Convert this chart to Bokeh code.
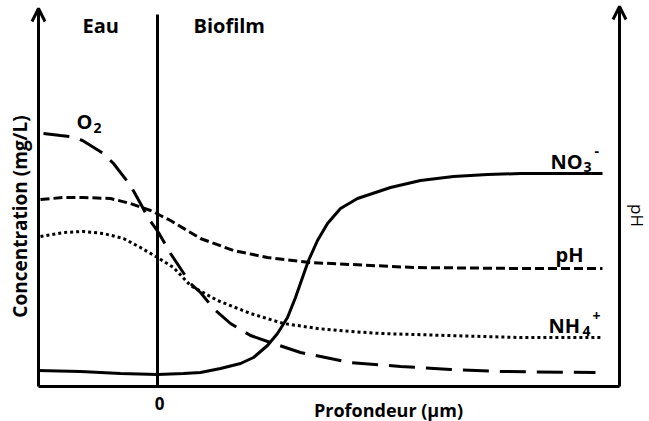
from bokeh.plotting import figure
from bokeh.models import Range1d, Arrow, OpenHead, Label
from bokeh.embed import file_html
from bokeh.resources import INLINE
import math

# Depth (arbitrary units, 0 = water/biofilm interface) and concentration (arbitrary units)
o2_depth = [-114, -97, -87, -75, -54, -44, -27, -17, -9, 1, 13, 33, 43, 56, 73, 93, 113, 143, 193, 243, 293, 343, 438]
o2_conc = [253, 251, 250, 246, 233, 223, 201, 183, 168, 154, 133, 103, 94, 78, 63, 51, 44, 34, 24, 20, 17, 15, 14]

ph_depth = [-117, -94, -74, -47, -27, -7, 3, 13, 43, 76, 110, 153, 193, 256, 363, 445]
ph_val = [187, 189, 189, 188, 183, 176, 171, 166, 148, 136, 129, 124, 122, 119, 118, 118]

nh4_depth = [-117, -94, -74, -54, -34, -17, 0, 16, 33, 60, 93, 126, 160, 193, 223, 290, 363, 445]
nh4_conc = [150, 154, 155, 153, 148, 139, 129, 119, 101, 86, 73, 63, 58, 55, 53, 51, 49, 49]

no3_depth = [-120, -77, -37, 0, 26, 43, 63, 83, 96, 110, 120, 130, 138, 145, 151, 160, 170, 183, 200, 233, 263, 296, 330, 363, 445]
no3_conc = [16, 15, 13, 12, 13, 14, 18, 23, 29, 41, 53, 69, 89, 109, 126, 146, 163, 178, 188, 199, 206, 210, 212, 213, 213]

FONT = "Open Sans"

p = figure(width=649, height=421, output_backend="svg", toolbar_location=None,
           x_range=Range1d(-157, 492), y_range=Range1d(-35, 386),
           min_border=0, min_border_left=0, min_border_right=0,
           min_border_top=0, min_border_bottom=0)
p.xaxis.visible = False
p.yaxis.visible = False
p.grid.visible = False
p.outline_line_color = None
p.background_fill_color = "white"
p.border_fill_color = "white"

X0, X1 = -119, 462
# frame lines
p.line([X0, X1], [0, 0], line_color="black", line_width=3)
p.line([0, 0], [0, 372], line_color="black", line_width=3)
p.add_layout(Arrow(end=OpenHead(size=13, line_width=3, line_color="black"),
                   x_start=X0, y_start=0, x_end=X0, y_end=378,
                   line_width=3, line_color="black"))
p.add_layout(Arrow(end=OpenHead(size=13, line_width=3, line_color="black"),
                   x_start=X1, y_start=0, x_end=X1, y_end=380,
                   line_width=3, line_color="black"))

# curves
p.line(o2_depth, o2_conc, line_color="black", line_width=3, line_dash="26 11")
p.line(ph_depth, ph_val, line_color="black", line_width=3, line_dash="9 4")
p.line(nh4_depth, nh4_conc, line_color="black", line_width=3, line_dash="3 3")
p.line(no3_depth, no3_conc, line_color="black", line_width=3)


def lab(x, y, t, size=20, bold=True, align="left", baseline="alphabetic", angle=0.0):
    p.add_layout(Label(x=x, y=y, text=t, text_font=FONT, text_font_size=f"{size}px",
                       text_font_style="bold" if bold else "normal",
                       text_align=align, text_baseline=baseline, angle=angle,
                       text_color="black"))

# top labels
lab(-75, 361, "Eau")
lab(36, 361, "Biofilm")
# O2
lab(-81, 265, "O")
lab(-64, 259, "2", size=14)
# NO3-
lab(393, 225, "NO")
lab(426, 220, "3", size=14)
lab(437, 236, "-", size=14)
# pH
lab(398, 132, "pH")
# NH4+
lab(391, 61, "NH")
lab(425, 56, "4", size=14)
lab(435, 71, "+", size=14)
# axes labels
lab(2, -17, "0", size=17, align="center", baseline="middle")
lab(231, -23, "Profondeur (µm)", size=18, align="center", baseline="middle")
lab(-138, 170, "Concentration (mg/L)", size=19, align="center", baseline="middle", angle=math.pi / 2)
lab(480, 171, "pH", size=17, bold=False, align="center", baseline="middle", angle=-math.pi / 2)

open("out.html", "w").write(file_html(p, INLINE))
